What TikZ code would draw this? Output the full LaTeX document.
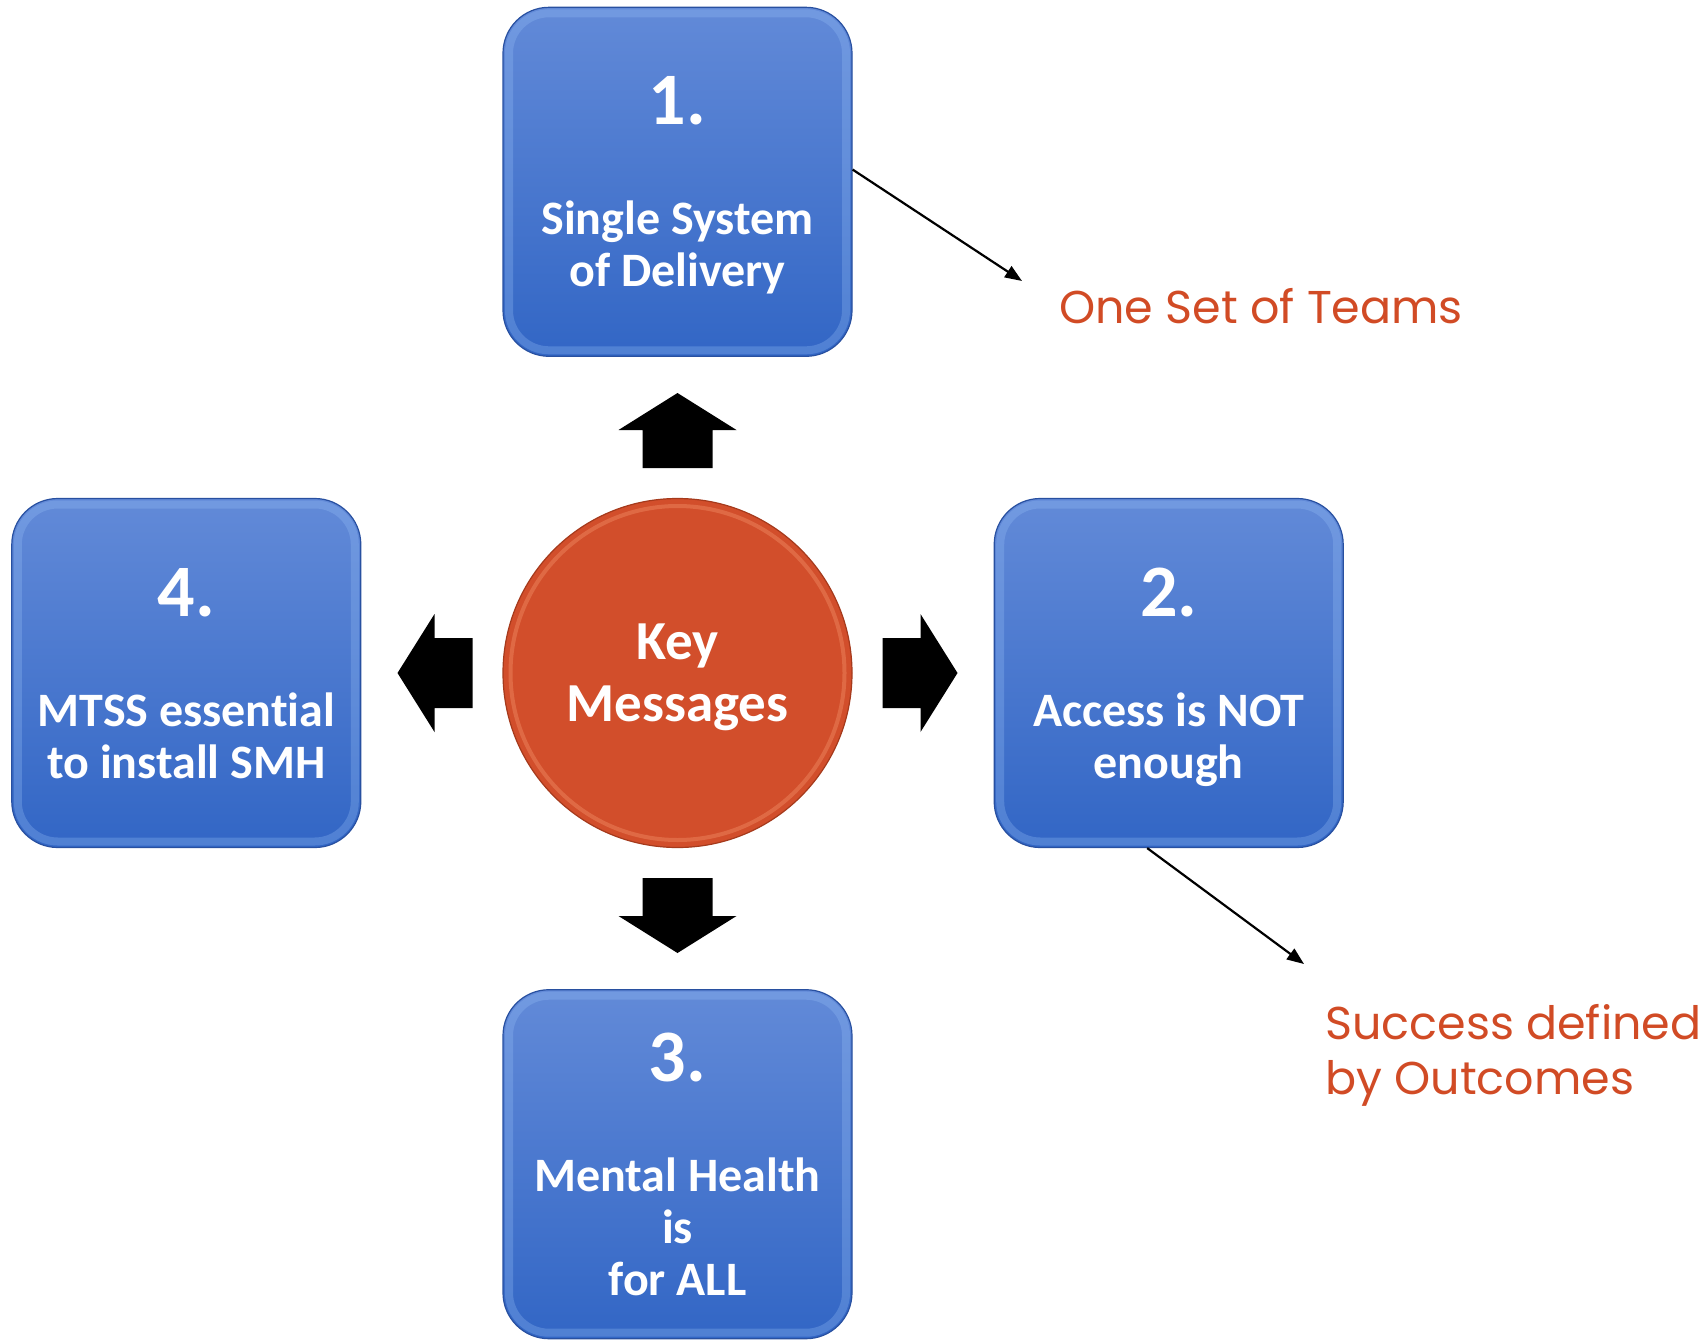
\documentclass[tikz,border=0pt]{standalone}
\usepackage{fontspec}
\setmainfont[Ligatures={NoCommon,NoContextual},RawFeature={-liga;-clig;-dlig}]{Carlito}
\newfontfamily\gothic{Poppins}
\usetikzlibrary{arrows.meta,positioning}

\definecolor{boxtop}{RGB}{98,138,216}
\definecolor{boxbot}{RGB}{50,102,197}
\definecolor{boxedge}{RGB}{40,80,160}
\definecolor{boxrim}{RGB}{150,190,245}
\definecolor{keyfill}{RGB}{210,78,43}
\definecolor{keyedge}{RGB}{165,58,28}
\definecolor{keyrim}{RGB}{240,140,100}
\definecolor{notered}{RGB}{209,75,37}

\newcommand{\boxnum}[1]{{\fontsize{74}{74}\selectfont #1}}

\begin{document}
\begin{tikzpicture}[x=1pt,y=-1pt,node distance=141pt,
  msgbox/.style={rectangle,rounded corners=46pt,minimum size=349pt,inner sep=0pt,
    draw=boxedge,line width=1.2pt,top color=boxtop,bottom color=boxbot,
    text=white,align=center,text depth=0pt,font=\bfseries\fontsize{48}{52}\selectfont,
    path picture={\draw[boxrim,line width=8pt,rounded corners=40pt,opacity=.3]
      ([xshift=6pt,yshift=-6pt]path picture bounding box.north west) rectangle
      ([xshift=-6pt,yshift=6pt]path picture bounding box.south east);}},
  keynode/.style={circle,minimum size=349pt,inner sep=0pt,draw=keyedge,line width=1.2pt,
    fill=keyfill,text=white,align=center,text depth=0pt,font=\bfseries\fontsize{55}{62}\selectfont,
    path picture={\draw[keyrim,line width=4pt,opacity=.45]
      (path picture bounding box.center) circle[radius=167pt];}},
  blockarrow/.style={fill=black},
  notearrow/.style={-{Triangle[length=17pt,width=13pt]},line width=2.2pt},
  note/.style={text=notered,font=\gothic\fontsize{46}{55}\selectfont,inner sep=0pt,align=left}]

  \useasboundingbox (0,0) rectangle (1708,1339);

  \node[keynode] (key) at (677.5,673) {Key\\Messages};
  \node[msgbox] (box1) [above=of key] {\boxnum{1.}\\[58pt]Single System\\of Delivery};
  \node[msgbox] (box2) [right=of key] {\boxnum{2.}\\[58pt]Access is NOT\\enough};
  \node[msgbox] (box3) [below=of key] {\boxnum{3.}\\[58pt]Mental Health\\is\\for ALL};
  \node[msgbox] (box4) [left=of key] {\boxnum{4.}\\[58pt]MTSS essential\\to install SMH};

  % block arrows out of the circle
  \foreach \ang in {0,90,180,270}
    \fill[blockarrow,shift={(key.center)},rotate=\ang]
      (205,-35) -- (243,-35) -- (243,-59) -- (280,0) -- (243,59) -- (243,35) -- (205,35) -- cycle;

  \node[note,anchor=base west] (teams) at (1059,323.5) {One Set of Teams};
  \node[note,anchor=north west] (outcomes) at (1325,1004) {Success defined\\by Outcomes};

  \coordinate (teamstip) at (1022,281);
  \coordinate (outcomestip) at (1304,964);
  \draw[notearrow] (box1.4) -- (teamstip);
  \draw[notearrow] (box2.263) -- (outcomestip);
\end{tikzpicture}
\end{document}
